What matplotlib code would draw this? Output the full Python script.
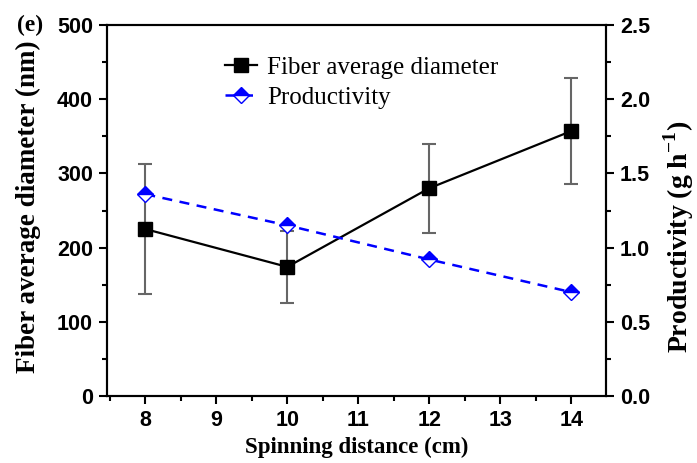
import numpy as np
import matplotlib
matplotlib.use('Agg')
import matplotlib.pyplot as plt
from matplotlib.ticker import MultipleLocator, FormatStrFormatter

# Dados
distance = [8, 10, 12, 14]
diameter = [225, 174, 280, 357]
diameter_err = [87, 49, 60, 71]
productivity = [1.36, 1.15, 0.92, 0.70]

sans = 'Liberation Sans'
serif = 'Liberation Serif'
plt.rcParams['mathtext.fontset'] = 'custom'
plt.rcParams['mathtext.rm'] = 'Liberation Serif:bold'
plt.rcParams['mathtext.bf'] = 'Liberation Serif:bold'

W, H = 697, 463
fig = plt.figure(figsize=(W / 100, H / 100), dpi=100)
ax = fig.add_axes([0.1535, 0.1447, 0.7159, 0.8013])
ax2 = ax.twinx()

# Diâmetro médio da fibra
ax.errorbar(distance, diameter, yerr=diameter_err, fmt='none', ecolor='#666666',
            elinewidth=1.5, capsize=5, capthick=1.5, zorder=2)
l1, = ax.plot(distance, diameter, color='black', lw=1.6, marker='s', ms=9.5,
              mfc='black', mec='black', label='Fiber average diameter', zorder=3)

# Produtividade
l2, = ax2.plot(distance, productivity, color='blue', lw=1.8, ls=(0, (4, 3)),
               marker='D', ms=8.5, fillstyle='top', mfc='blue', mfcalt='white',
               mec='blue', mew=1.0, label='Productivity', zorder=4)

ax.set_xlim(7.46, 14.49)
ax.set_ylim(0, 500)
ax2.set_ylim(0, 2.5)

ax.xaxis.set_major_locator(MultipleLocator(1))
ax.xaxis.set_minor_locator(MultipleLocator(0.5))
ax.yaxis.set_major_locator(MultipleLocator(100))
ax.yaxis.set_minor_locator(MultipleLocator(50))
ax2.yaxis.set_major_locator(MultipleLocator(0.5))
ax2.yaxis.set_minor_locator(MultipleLocator(0.25))
ax2.yaxis.set_major_formatter(FormatStrFormatter('%.1f'))

for a in (ax, ax2):
    for s in a.spines.values():
        s.set_linewidth(1.5)
    a.tick_params(which='major', direction='out', length=6, width=1.5, pad=4)
    a.tick_params(which='minor', direction='out', length=3.5, width=1.5)
    for lab in a.get_xticklabels() + a.get_yticklabels():
        lab.set_fontfamily(sans)
        lab.set_fontweight('bold')
        lab.set_fontsize(15.5)

ax.set_xlabel('Spinning distance (cm)', fontfamily=serif, fontweight='bold', fontsize=16.5,
              labelpad=4)

# rótulos dos eixos y posicionados manualmente
fig.text(28 / W, 1 - 207 / H, 'Fiber average diameter (nm)', rotation=90, ha='center',
         va='center', fontfamily=serif, fontweight='bold', fontsize=19.5)
fig.text(679 / W, 1 - 237 / H, r'Productivity (g h$^{-1}$)', rotation=90, ha='center',
         va='center', fontfamily=serif, fontweight='bold', fontsize=20)

fig.text(0.024, 0.932, '(e)', fontfamily=serif, fontweight='bold', fontsize=17)

leg = ax.legend(handles=[l1, l2], loc='upper left', bbox_to_anchor=(0.236, 0.915),
                frameon=False, prop={'family': serif, 'size': 18}, borderpad=0,
                borderaxespad=0, handlelength=1.3, handletextpad=0.4, labelspacing=0.3)

fig.savefig('out.png', dpi=100)
